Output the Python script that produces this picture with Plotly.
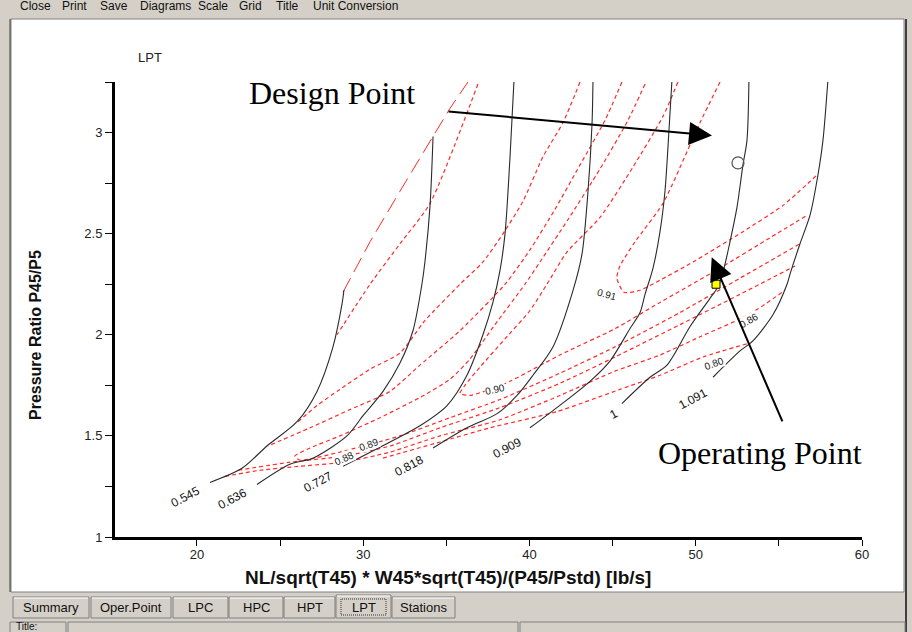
import plotly.graph_objects as go

# ---------------- data: speed lines (corrected speed) ----------------
speed_names = ["0.545", "0.636", "0.727", "0.818", "0.909", "1", "1.091"]

spd_0545_x = [20.78, 22.71, 24.21, 26.02, 27.22, 28.18, 28.72, 28.84]
spd_0545_y = [1.27, 1.34, 1.45, 1.57, 1.72, 1.94, 2.15, 2.22]
spd_0636_x = [23.61, 25.59, 26.98, 29.02, 29.99, 31.19, 32.21, 32.99, 33.53, 33.71, 34.02, 34.20]
spd_0636_y = [1.26, 1.36, 1.39, 1.50, 1.60, 1.72, 1.86, 2.02, 2.25, 2.36, 2.64, 2.98]
spd_0727_x = [28.78, 31.61, 33.41, 35.04, 36.24, 37.20, 37.80, 38.23, 38.53, 38.83, 39.07]
spd_0727_y = [1.35, 1.47, 1.55, 1.65, 1.80, 2.00, 2.16, 2.32, 2.50, 2.88, 3.26]
spd_0818_x = [34.20, 36.24, 38.05, 39.25, 40.21, 41.41, 42.62, 43.16, 43.52, 43.76, 43.82]
spd_0818_y = [1.44, 1.54, 1.61, 1.70, 1.80, 1.94, 2.22, 2.40, 2.71, 3.04, 3.26]
spd_0909_x = [40.03, 41.65, 43.64, 44.84, 46.04, 46.65, 46.95, 47.43, 47.85, 48.15, 48.39, 48.57]
spd_0909_y = [1.54, 1.64, 1.77, 1.87, 2.03, 2.11, 2.20, 2.33, 2.51, 2.71, 3.01, 3.26]
spd_1000_x = [45.56, 47.25, 48.27, 49.65, 50.86, 51.28, 51.64, 52.06, 52.48, 52.84, 53.08, 53.20]
spd_1000_y = [1.66, 1.79, 1.85, 2.04, 2.18, 2.23, 2.31, 2.46, 2.63, 2.84, 2.96, 3.26]
spd_1091_x = [51.04, 52.66, 53.44, 54.65, 55.49, 55.67, 56.27, 56.87, 57.35, 57.65, 57.95]
spd_1091_y = [1.79, 1.92, 1.97, 2.10, 2.25, 2.30, 2.45, 2.59, 2.79, 2.96, 3.26]

speed_label_x = [19.28, 22.11, 27.28, 32.75, 38.65, 45.08, 49.83]
speed_label_y = [1.20, 1.19, 1.27, 1.35, 1.44, 1.61, 1.68]

# ---------------- data: efficiency contours ----------------
eff_names = ["0.91", "0.90", "0.89", "0.88", "0.86", "0.80"]

eff_091_x = [51.46, 50.26, 48.03, 46.35, 45.44, 45.26, 45.68, 46.65, 47.85, 49.84, 52.84, 55.25, 57.29]
eff_091_y = [3.25, 3.05, 2.65, 2.46, 2.34, 2.28, 2.21, 2.22, 2.27, 2.36, 2.51, 2.64, 2.79]

eff_090_x = [48.93, 48.03, 46.23, 44.24, 42.26, 41.05, 40.03, 38.53, 37.02, 36.12, 35.82, 36.42,
             37.62, 38.83, 41.83, 45.14, 47.85, 51.46, 54.47, 56.69]
eff_090_y = [3.25, 3.08, 2.83, 2.58, 2.41, 2.25, 2.12, 1.98, 1.84, 1.75, 1.71, 1.70,
             1.73, 1.77, 1.90, 2.03, 2.16, 2.33, 2.48, 2.59]

eff_089_x = [46.95, 45.92, 44.24, 42.32, 40.63, 39.73, 37.92, 36.42, 35.22, 33.41, 31.01, 28.60,
             26.80, 25.89, 26.20, 28.60, 32.21, 35.22, 38.23, 41.83, 45.14, 49.05, 52.66, 56.27]
eff_089_y = [3.24, 3.06, 2.82, 2.57, 2.36, 2.25, 2.05, 1.88, 1.78, 1.69, 1.59, 1.50,
             1.44, 1.40, 1.38, 1.42, 1.50, 1.59, 1.68, 1.81, 1.94, 2.11, 2.28, 2.45]

eff_088_up_x = [45.56, 44.54, 43.04, 41.53, 40.03, 38.53, 35.82, 33.41, 31.61, 29.20, 26.80, 24.27]
eff_088_up_y = [3.25, 3.06, 2.84, 2.62, 2.42, 2.25, 2.02, 1.85, 1.72, 1.63, 1.54, 1.45]
eff_088_lo_x = [22.47, 25.59, 28.84, 31.61, 34.62, 38.23, 41.83, 45.14, 49.05, 52.66, 55.97]
eff_088_lo_y = [1.33, 1.37, 1.40, 1.45, 1.54, 1.64, 1.76, 1.89, 2.05, 2.20, 2.34]

eff_086_up_x = [43.04, 42.02, 40.81, 39.61, 38.41, 37.20, 35.82, 33.71, 32.21, 30.41, 28.60, 27.22, 26.08]
eff_086_up_y = [3.25, 3.05, 2.88, 2.66, 2.50, 2.36, 2.25, 2.07, 1.91, 1.83, 1.73, 1.65, 1.57]
eff_086_lo_x = [21.68, 23.79, 26.20, 28.84, 31.61, 34.62, 38.23, 41.83, 45.14, 47.85, 50.26, 53.20, 55.37]
eff_086_lo_y = [1.30, 1.33, 1.35, 1.37, 1.42, 1.50, 1.58, 1.70, 1.82, 1.90, 1.99, 2.10, 2.22]

eff_080_up_x = [36.90, 34.02, 32.21, 30.41, 28.42]
eff_080_up_y = [3.24, 2.65, 2.45, 2.25, 2.00]
eff_080_lo_x = [31.19, 34.62, 37.62, 41.65, 45.44, 47.85, 50.44, 53.26]
eff_080_lo_y = [1.39, 1.47, 1.54, 1.62, 1.73, 1.80, 1.89, 1.96]

boundary_x = [28.78, 30.41, 32.21, 34.20, 35.22, 36.30]
boundary_y = [2.21, 2.46, 2.71, 2.98, 3.12, 3.25]

eff_label_x = [44.66, 37.92, 30.35, 28.84, 53.20, 51.10]
eff_label_y = [2.20, 1.73, 1.455, 1.39, 2.07, 1.86]
eff_label_angle = [15, -12, -20, -25, -30, -20]

design_point = (52.54, 2.85)
operating_point = (51.22, 2.25)
design_arrow_tail = (35.04, 3.105)
design_arrow_tip = (50.98, 2.985)
oper_arrow_tail = (55.25, 1.564)
oper_arrow_tip = (50.96, 2.383)

x_ticks = [20, 25, 30, 35, 40, 45, 50, 55, 60]
x_ticktext = ["20", "", "30", "", "40", "", "50", "", "60"]
y_ticks = [1, 1.25, 1.5, 1.75, 2, 2.25, 2.5, 2.75, 3, 3.25]
y_ticktext = ["1", "", "1.5", "", "2", "", "2.5", "", "3", ""]

tabs = ["Summary", "Oper.Point", "LPC", "HPC", "HPT", "LPT", "Stations"]
menu_items = ["Close", "Print", "Save", "Diagrams", "Scale", "Grid", "Title", "Unit Conversion"]

# ---------------- figure ----------------
W, H = 912, 632
PL, PR, PT, PB = 115, 862, 82, 537   # plot-area pixel box


def PX(p):
    return (p - PL) / (PR - PL)


def PY(p):
    return (PB - p) / (PB - PT)


FONT = "Liberation Sans, Arial, sans-serif"
fig = go.Figure()

RED = "#ff2a2a"
for (xs, ys) in [(eff_091_x, eff_091_y), (eff_090_x, eff_090_y), (eff_089_x, eff_089_y),
                 (eff_088_up_x, eff_088_up_y), (eff_088_lo_x, eff_088_lo_y),
                 (eff_086_up_x, eff_086_up_y), (eff_086_lo_x, eff_086_lo_y),
                 (eff_080_up_x, eff_080_up_y), (eff_080_lo_x, eff_080_lo_y)]:
    fig.add_trace(go.Scatter(x=xs, y=ys, mode="lines", hoverinfo="skip",
                             line=dict(color=RED, width=1.2, dash="4px,3px", shape="spline", smoothing=0.6)))

fig.add_trace(go.Scatter(x=boundary_x, y=boundary_y, mode="lines", hoverinfo="skip",
                         line=dict(color=RED, width=1.0, dash="16px,7px")))

for xs, ys in [(spd_0545_x, spd_0545_y), (spd_0636_x, spd_0636_y), (spd_0727_x, spd_0727_y),
               (spd_0818_x, spd_0818_y), (spd_0909_x, spd_0909_y), (spd_1000_x, spd_1000_y),
               (spd_1091_x, spd_1091_y)]:
    fig.add_trace(go.Scatter(x=xs, y=ys, mode="lines", hoverinfo="skip",
                             line=dict(color="#2a2a2a", width=1.1, shape="spline", smoothing=0.8)))

fig.add_trace(go.Scatter(x=[design_point[0]], y=[design_point[1]], mode="markers",
                         marker=dict(symbol="circle-open", size=12, color="#555", line=dict(width=1.2))))
fig.add_trace(go.Scatter(x=[operating_point[0]], y=[operating_point[1]], mode="markers",
                         marker=dict(symbol="square", size=8, color="#ffff00",
                                     line=dict(color="black", width=1))))

ann = []
for name, lx, ly in zip(speed_names, speed_label_x, speed_label_y):
    ann.append(dict(x=lx, y=ly, xref="x", yref="y", text=name, showarrow=False, textangle=-28,
                    xanchor="center", yanchor="middle",
                    font=dict(family=FONT, size=12, color="#111")))
for name, lx, ly, ang in zip(eff_names, eff_label_x, eff_label_y, eff_label_angle):
    ann.append(dict(x=lx, y=ly, xref="x", yref="y", text=name, showarrow=False, textangle=ang,
                    bgcolor="white", borderpad=0, xanchor="center", yanchor="middle",
                    font=dict(family=FONT, size=10, color="#222")))

# arrows
for tail, tip in [(design_arrow_tail, design_arrow_tip), (oper_arrow_tail, oper_arrow_tip)]:
    ann.append(dict(x=tip[0], y=tip[1], ax=tail[0], ay=tail[1], xref="x", yref="y",
                    axref="x", ayref="y", text="", showarrow=True, arrowhead=2,
                    arrowsize=2.3, arrowwidth=2, arrowcolor="black", standoff=0))

ann.append(dict(x=28.12, y=3.198, xref="x", yref="y", text="Design Point", showarrow=False,
                xanchor="center", yanchor="middle",
                font=dict(family="Liberation Serif, Times New Roman, serif", size=32, color="black")))
ann.append(dict(x=53.86, y=1.416, xref="x", yref="y", text="Operating Point", showarrow=False,
                xanchor="center", yanchor="middle",
                font=dict(family="Liberation Serif, Times New Roman, serif", size=32, color="black")))

# titles
ann.append(dict(x=PX(150), y=PY(58), xref="paper", yref="paper", text="LPT", showarrow=False,
                xanchor="center", yanchor="middle",
                font=dict(family=FONT, size=13, color="#222")))
ann.append(dict(x=PX(35), y=PY(335), xref="paper", yref="paper", text="<b>Pressure Ratio P45/P5</b>",
                showarrow=False, textangle=-90, xanchor="center", yanchor="middle",
                font=dict(family=FONT, size=16, color="#111")))
ann.append(dict(x=PX(448), y=PY(577), xref="paper", yref="paper",
                text="<b>NL/sqrt(T45) * W45*sqrt(T45)/(P45/Pstd) [lb/s]</b>", showarrow=False,
                xanchor="center", yanchor="middle",
                font=dict(family=FONT, size=19, color="#111")))

# window chrome: menu
menu_x = [18, 60, 98, 138, 196, 237, 274, 311]
for m, mx in zip(menu_items, menu_x):
    ann.append(dict(x=PX(mx), y=PY(6), xref="paper", yref="paper", text=m, showarrow=False,
                    xanchor="left", yanchor="middle",
                    font=dict(family=FONT, size=12, color="#111")))

shapes = []
# white panel
shapes.append(dict(type="rect", xref="paper", yref="paper", x0=PX(11), x1=PX(904), y0=PY(592), y1=PY(19),
                   fillcolor="white", line=dict(color="#808080", width=1), layer="below"))
shapes.append(dict(type="line", xref="paper", yref="paper", x0=PX(906), x1=PX(906), y0=PY(632), y1=PY(19),
                   line=dict(color="#404040", width=2), layer="below"))
shapes.append(dict(type="line", xref="paper", yref="paper", x0=PX(10), x1=PX(10), y0=PY(592), y1=PY(19),
                   line=dict(color="#404040", width=1), layer="below"))

# tabs
tab_x0 = [13, 91, 173, 229, 284, 336, 392]
tab_x1 = [89, 171, 228, 283, 335, 391, 455]
for t, a, b in zip(tabs, tab_x0, tab_x1):
    sel = (t == "LPT")
    top = 595 if sel else 597
    shapes.append(dict(type="rect", xref="paper", yref="paper", x0=PX(a), x1=PX(b), y0=PY(618), y1=PY(top),
                       fillcolor="#d4d0c8", line=dict(color="#808080", width=1), layer="below"))
    shapes.append(dict(type="line", xref="paper", yref="paper", x0=PX(a + 1), x1=PX(b - 1), y0=PY(top + 1),
                       y1=PY(top + 1), line=dict(color="white", width=1), layer="below"))
    ann.append(dict(x=PX((a + b) / 2), y=PY(607), xref="paper", yref="paper", text=t, showarrow=False,
                    xanchor="center", yanchor="middle",
                    font=dict(family=FONT, size=13, color="#111")))
    if sel:
        shapes.append(dict(type="rect", xref="paper", yref="paper", x0=PX(a + 5), x1=PX(b - 5),
                           y0=PY(615), y1=PY(599), line=dict(color="#333", width=1, dash="1px,1px"),
                           layer="below"))

# status bar
for a, b in [(10, 66), (68, 518), (520, 905)]:
    shapes.append(dict(type="rect", xref="paper", yref="paper", x0=PX(a), x1=PX(b), y0=PY(634), y1=PY(622),
                       fillcolor="#d4d0c8", line=dict(color="#808080", width=1), layer="below"))
ann.append(dict(x=PX(14), y=PY(626), xref="paper", yref="paper", text="Title:", showarrow=False,
                xanchor="left", yanchor="middle", font=dict(family=FONT, size=10, color="#111")))

fig.update_layout(
    width=W, height=H, autosize=False,
    margin=dict(l=PL, r=W - PR, t=PT, b=H - PB, pad=0),
    paper_bgcolor="#d4d0c8", plot_bgcolor="white",
    showlegend=False,
    annotations=ann, shapes=shapes,
    xaxis=dict(range=[15.07, 60.0], tickvals=x_ticks, ticktext=x_ticktext, ticks="outside",
               ticklen=6, tickwidth=1, tickcolor="black", showline=True, linewidth=3, linecolor="black",
               showgrid=False, zeroline=False, ticklabelstandoff=-3,
               tickfont=dict(family=FONT, size=13, color="#222")),
    yaxis=dict(range=[1.0, 3.25], tickvals=y_ticks, ticktext=y_ticktext, ticks="outside",
               ticklen=7, tickwidth=1, tickcolor="black", showline=True, linewidth=3, linecolor="black",
               showgrid=False, zeroline=False,
               tickfont=dict(family=FONT, size=13, color="#222")),
)

fig.write_html("out.html")
